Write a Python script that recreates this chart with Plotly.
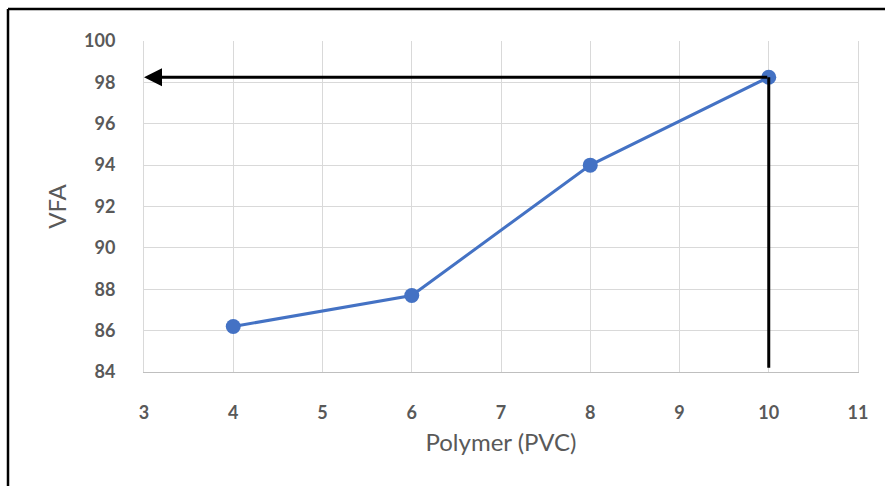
import plotly.graph_objects as go

polymer = [4, 6, 8, 10]
vfa = [86.2, 87.7, 94.0, 98.25]
x_ticks = [3, 4, 5, 6, 7, 8, 9, 10, 11]
y_ticks = [84, 86, 88, 90, 92, 94, 96, 98, 100]
guide_x = 10
guide_y = 98.25
guide_bottom = 84.2
x_left = 3

fig = go.Figure()
fig.add_trace(go.Scatter(
    x=polymer, y=vfa, mode="lines+markers",
    line=dict(color="#4472C4", width=3),
    marker=dict(color="#4472C4", size=15),
    showlegend=False,
))
# vertical guide line
fig.add_trace(go.Scatter(
    x=[guide_x, guide_x], y=[guide_y, guide_bottom], mode="lines",
    line=dict(color="black", width=3), showlegend=False, hoverinfo="skip",
))
# horizontal guide arrow
fig.add_annotation(
    x=x_left, y=guide_y, ax=guide_x, ay=guide_y,
    xref="x", yref="y", axref="x", ayref="y",
    showarrow=True, arrowhead=2, arrowsize=1.2, arrowwidth=3,
    arrowcolor="black", text="",
)

tickfont = dict(family="Lato", size=18, color="#595959", weight="bold")
titlefont = dict(family="Lato", size=24, color="#595959")
fig.update_layout(
    width=885, height=486,
    margin=dict(l=144, r=27, t=41, b=114),
    paper_bgcolor="white", plot_bgcolor="white",
    font=dict(family="Lato", color="#595959"),
    xaxis=dict(
        range=[3, 11], tickvals=x_ticks, ticktext=[str(v) for v in x_ticks],
        showgrid=True, gridcolor="#d9d9d9", gridwidth=1,
        showline=True, linecolor="#bfbfbf", linewidth=1,
        zeroline=False, tickfont=tickfont, ticks="", ticklabelstandoff=24,
        title=dict(text="Polymer (PVC)", font=titlefont, standoff=12),
    ),
    yaxis=dict(
        range=[84, 100], tickvals=y_ticks, ticktext=[str(v) for v in y_ticks],
        showgrid=True, gridcolor="#d9d9d9", gridwidth=1,
        showline=True, linecolor="#d9d9d9", linewidth=1, mirror=True,
        zeroline=False, tickfont=tickfont, ticks="", ticklabelstandoff=24,
        title=dict(text="VFA", font=titlefont, standoff=10),
    ),
    shapes=[
        dict(type="line", xref="paper", yref="paper", x0=-136/714, x1=741/714, y0=(372-9)/331, y1=(372-9)/331,
             line=dict(color="black", width=2.5)),
        dict(type="line", xref="paper", yref="paper", x0=-136/714, x1=-136/714, y0=(372-9)/331, y1=(372-490)/331,
             line=dict(color="black", width=2.5)),
    ],
)
fig.write_html("out.html")
